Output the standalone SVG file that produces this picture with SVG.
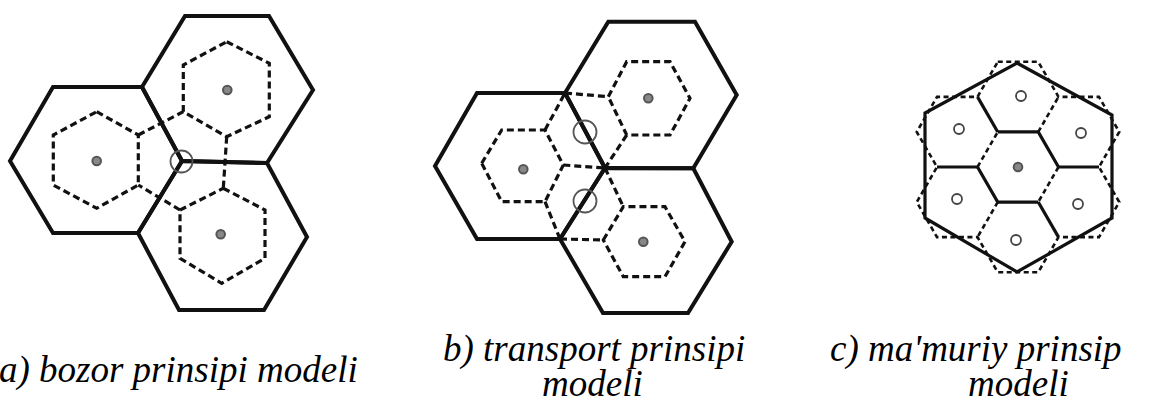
<svg xmlns="http://www.w3.org/2000/svg" width="1162" height="401" viewBox="0 0 1162 401">
<style>
.solid{fill:none;stroke:#111;stroke-width:4;stroke-linejoin:miter}
.solidc{fill:none;stroke:#111;stroke-width:3.2;stroke-linejoin:miter}
.dash{fill:none;stroke:#111;stroke-width:3.2;stroke-dasharray:7 4}
.dashc{fill:none;stroke:#111;stroke-width:2.6;stroke-dasharray:5 3.5}
.dot{fill:#888;stroke:#555;stroke-width:2}
.ring{fill:none;stroke:#555;stroke-width:1.8}
.odot{fill:#fff;stroke:#444;stroke-width:1.8}
</style>
<rect width="1162" height="401" fill="#fff"/>

<g id="a-hex-left">
<polygon class="solid" points="10,161 53,87 142,87 182,161 138,233 53,233"/>
<polygon class="dash" points="96.7,111.7 138.3,135 138.3,185 96.7,208.3 53.3,185 53.3,135"/>
<circle class="dot" cx="96.7" cy="161" r="4.3"/>
</g>
<g id="a-hex-top">
<polygon class="solid" points="142,87 185,16 269,16 313,90 267,163 182,161"/>
<polygon class="dash" points="226.7,41.7 269.3,63.3 269.3,116.7 226.7,136.7 183.3,111.7 183.3,65"/>
<circle class="dot" cx="227.3" cy="90" r="4.3"/>
</g>
<g id="a-hex-bottom">
<polygon class="solid" points="182,161 267,163 307,237 264,310 179,310 138,233"/>
<polygon class="dash" points="223.3,188.3 265,210 265,258.3 221.7,283.3 180,258.3 180,210"/>
<circle class="dot" cx="220.7" cy="234.3" r="4.3"/>
</g>
<g id="a-junction">
<circle class="ring" cx="181.5" cy="161.5" r="11"/>
</g>

<g id="b-hex-left">
<polygon class="solid" points="435,166 477,93 565,93 605,168 560,239 477,239"/>
<polygon class="dash" points="481.7,163.3 501.7,130 545,130 563.3,165 545,201.7 501.7,201.7"/>
<circle class="dot" cx="523.3" cy="169.3" r="4.3"/>
</g>
<g id="b-hex-top">
<polygon class="solid" points="565,93 608.3,21.7 695,21.7 736.7,95 693.3,168.3 605,168"/>
<polygon class="dash" points="608.3,96.7 626.7,61.7 670,61.7 690,98.3 670,135 626.7,135"/>
<circle class="dot" cx="648.3" cy="98.3" r="4.3"/>
</g>
<g id="b-hex-bottom">
<polygon class="solid" points="605,168 693.3,168.3 731.7,241.7 688,313 603,313 560,239"/>
<polygon class="dash" points="603.3,240 623.3,206.7 665,206.7 685,241.7 665,276.7 623.3,276.7"/>
<circle class="dot" cx="643.3" cy="241.7" r="4.3"/>
</g>
<g id="b-junctions">
<circle class="ring" cx="585" cy="132" r="11.5"/>
<circle class="ring" cx="585" cy="201" r="11.5"/>
</g>

<g id="c-outer">
<polygon class="dashc" points="997.75,61.8 1038.25,61.8 1058.5,96.85 1099,96.85 1119.25,131.93 1099,167 1119.25,202.07 1099,237.15 1058.5,237.15 1038.25,272.2 997.75,272.2 977.5,237.15 937,237.15 916.75,202.07 937,167 916.75,131.93 937,96.85 977.5,96.85"/>
<polygon class="solidc" points="1017,63 1112,115 1112,218 1017,272 925,218 925,113"/>
</g>
<g id="c-center">
<polyline class="solidc" points="977.5,167 997.75,202.07 1038.25,202.07"/>
<polyline class="solidc" points="997.75,131.93 1038.25,131.93 1058.5,167"/>
<line class="dashc" x1="977.5" y1="167" x2="997.75" y2="131.93"/>
<line class="dashc" x1="1058.5" y1="167" x2="1038.25" y2="202.07"/>
<circle class="dot" cx="1018" cy="167" r="4.3"/>
</g>
<g id="c-top"><circle class="odot" cx="1021" cy="96" r="5"/></g>
<g id="c-upper-right"><circle class="odot" cx="1081" cy="133" r="5"/></g>
<g id="c-lower-right"><circle class="odot" cx="1078" cy="204" r="5"/></g>
<g id="c-bottom"><circle class="odot" cx="1016" cy="240" r="5"/></g>
<g id="c-lower-left"><circle class="odot" cx="957" cy="199" r="5"/></g>
<g id="c-upper-left"><circle class="odot" cx="959" cy="129" r="5"/></g>

<g id="connectors">
<line class="dash" x1="138.3" y1="135" x2="183.3" y2="111.7"/>
<line class="dash" x1="226.7" y1="136.7" x2="223.3" y2="188.3"/>
<line class="dash" x1="180" y1="210" x2="138.3" y2="185"/>
<line class="dash" x1="545" y1="130" x2="565" y2="93"/>
<line class="dash" x1="565" y1="93" x2="608.3" y2="96.7"/>
<line class="dash" x1="626.7" y1="135" x2="605" y2="168"/>
<line class="dash" x1="563.3" y1="165" x2="605" y2="168"/>
<line class="dash" x1="605" y1="168" x2="623.3" y2="206.7"/>
<line class="dash" x1="545" y1="201.7" x2="560" y2="239"/>
<line class="dash" x1="560" y1="239" x2="603.3" y2="240"/>
<line class="solidc" x1="997.75" y1="131.93" x2="977.5" y2="96.85"/>
<line class="dashc" x1="1038.25" y1="131.93" x2="1058.5" y2="96.85"/>
<line class="solidc" x1="1058.5" y1="167" x2="1099" y2="167"/>
<line class="solidc" x1="1038.25" y1="202.07" x2="1058.5" y2="237.15"/>
<line class="dashc" x1="997.75" y1="202.07" x2="977.5" y2="237.15"/>
<line class="solidc" x1="977.5" y1="167" x2="937" y2="167"/>
</g>

<text x="-1" y="382" font-family="Liberation Serif" font-style="italic" font-size="37">a) bozor prinsipi modeli</text>
<text x="443" y="361" font-family="Liberation Serif" font-style="italic" font-size="37">b) transport prinsipi</text>
<text x="542" y="396" font-family="Liberation Serif" font-style="italic" font-size="37">modeli</text>
<text x="830" y="361" font-family="Liberation Serif" font-style="italic" font-size="37">c) ma'muriy prinsip</text>
<text x="968" y="396" font-family="Liberation Serif" font-style="italic" font-size="37">modeli</text>
</svg>
